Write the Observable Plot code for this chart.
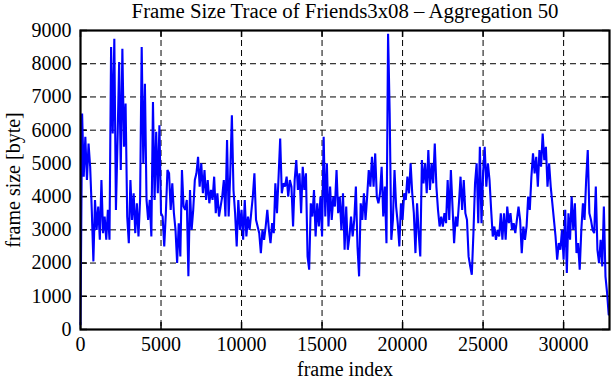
<!DOCTYPE html>
<html><head><meta charset="utf-8">
<script src="https://cdn.jsdelivr.net/npm/d3@7"></script>
<script src="https://cdn.jsdelivr.net/npm/@observablehq/plot@0.6"></script>
<style>body{margin:0;background:#fff} svg{display:block}</style>
</head><body><div id="chart"></div>
<script>
const titleText = "Frame Size Trace of Friends3x08 – Aggregation 50";
const xLabel = "frame index";
const yLabel = "frame size [byte]";
const frameStep = 100;
const frameSize = [
 150, 6500, 4600, 5800, 4500, 5600, 4900, 3600, 2050, 3900,
 3000, 3700, 2700, 4500, 2900, 3400, 2700, 3600, 2700, 8500,
 5900, 8750, 3600, 5700, 8050, 4800, 8450, 5500, 6800, 3400,
 2600, 4500, 3300, 4100, 2900, 3800, 2800, 3900, 8500, 5000,
 7400, 3900, 3300, 3900, 2800, 6850, 3900, 5950, 4100, 6150,
 3500, 3400, 2500, 3500, 4800,
 4700, 3600, 4400, 3500, 3000, 2000, 3200, 2200, 4800, 3700,
 3600, 3900, 1600, 4200, 3000, 3600, 4500, 4700, 5200, 4300,
 5000, 4100, 4800, 3900, 4500, 3800, 4200, 3900, 4600, 3500,
 4100, 3400, 3700, 4000, 4500, 3400, 5700, 3400, 4700, 6450,
 4200, 3500, 2500, 3900, 3000, 3600, 2700, 3900, 2800, 3400,
 3000, 3500, 4000, 4700, 3300,
 3100, 2900, 2300, 3000, 2700, 3100, 3600, 3000, 2600, 3200,
 2900, 4400, 3500, 4600, 5750, 4100, 4400, 4300, 4600, 4000,
 4500, 4300, 3100, 4500, 5100, 4200, 4700, 3500, 4900, 4200,
 4700, 2200, 1800, 3800, 3400, 4200, 2800, 3800, 3100, 4000,
 2800, 5800, 3400, 5000, 3100, 4300, 3300, 4000, 3700, 4800,
 3500, 4000, 3000, 4100,
 2400, 3700, 2400, 2800, 3400, 2800, 3300, 4300, 2500, 1600,
 3800, 3300, 4100, 3300, 4000, 4800, 4300, 5200, 4300, 5300,
 4000, 3800, 4100, 4900, 3400, 4300, 2600, 8900, 6500, 2700,
 3300, 4800, 3700, 3200, 2500, 3800, 3300, 4100, 3900, 4600,
 4100, 5000, 4100, 3500, 2300, 3800, 2900, 2200, 5100, 4400,
 5000, 4100, 5400, 4200, 5000,
 4400, 5600, 4300, 3600, 3100, 3400, 3100, 3500, 3200, 4500,
 3300, 4800, 3700, 2600, 3400, 3100, 3800, 4600, 3600, 4500,
 3500, 3300, 2200, 1900, 1650, 2900, 4400, 5000, 3200, 5500,
 3200, 4700, 5500, 4300, 5000, 4500, 3600, 2800, 3100, 2700,
 3000, 2800, 3500, 2700, 3500, 2700, 3700, 3200, 3500, 3000,
 3200, 2900, 3300, 3700,
 3300, 2300, 3100, 2700, 3100, 4000, 3600, 4600, 5300, 4700,
 5200, 4300, 5400, 4900, 5900, 5100, 5500, 4300, 5000, 4300,
 3800, 3300, 2800, 2100, 2600, 2400, 3000, 2100, 3600, 1700,
 3500, 2700, 4000, 3000, 3800, 2300, 2600, 1800, 3000, 3800,
 3300, 4500, 5400, 3500, 3300, 3000, 2900, 4300, 2400, 2000,
 2700, 1900, 3700, 1600, 1100, 450
];
const xTicks = [0, 5000, 10000, 15000, 20000, 25000, 30000];
const yTicks = [0, 1000, 2000, 3000, 4000, 5000, 6000, 7000, 8000, 9000];
const xMax = 32850;

const rows = frameSize.map((v, i) => ({frame: i * frameStep, size: v}));
const W = 611, H = 380, mt = 30, mb = 51, ml = 80, mr = 2;
const innerW = W - ml - mr, innerH = H - mt - mb;
const font = "'Liberation Serif', 'Times New Roman', serif";
const fmt = d => String(d);

const chart = Plot.plot({
  width: W, height: H,
  marginTop: mt, marginBottom: mb, marginLeft: ml, marginRight: mr,
  style: {fontFamily: font, fontSize: "20px", background: "white", color: "black", overflow: "visible"},
  x: {domain: [0, xMax]},
  y: {domain: [0, 9000]},
  marks: [
    Plot.gridX(xTicks.slice(1), {stroke: "black", strokeOpacity: 1, strokeWidth: 1, strokeDasharray: "6,4"}),
    Plot.gridY(yTicks.slice(1, -1), {stroke: "black", strokeOpacity: 1, strokeWidth: 1, strokeDasharray: "6,4"}),
    Plot.tickX(xTicks, {x: d => d, stroke: "black", strokeWidth: 1.5, insetTop: innerH - 7}),
    Plot.tickX(xTicks, {x: d => d, stroke: "black", strokeWidth: 1.5, insetBottom: innerH - 7}),
    Plot.tickY(yTicks, {y: d => d, stroke: "black", strokeWidth: 1.5, insetRight: innerW - 7}),
    Plot.tickY(yTicks, {y: d => d, stroke: "black", strokeWidth: 1.5, insetLeft: innerW - 7}),
    Plot.line(rows, {x: "frame", y: "size", stroke: "#0000ff", strokeWidth: 2.1, strokeLinejoin: "miter", strokeMiterlimit: 2}),
    Plot.frame({stroke: "black", strokeWidth: 2.2}),
    Plot.axisX(xTicks, {tickSize: 0, tickPadding: 7, label: null, tickFormat: fmt}),
    Plot.axisY(yTicks, {tickSize: 0, tickPadding: 9, label: null, tickFormat: fmt}),
    Plot.text([titleText], {frameAnchor: "top", textAnchor: "middle", lineAnchor: "bottom", dy: -13, fontSize: 20.8, text: d => d}),
    Plot.text([xLabel], {frameAnchor: "bottom", textAnchor: "middle", lineAnchor: "bottom", dy: 46, text: d => d}),
    Plot.text([yLabel], {frameAnchor: "left", textAnchor: "middle", dx: -67, rotate: -90, text: d => d})
  ]
});
document.getElementById("chart").appendChild(chart);
</script>
</body></html>
